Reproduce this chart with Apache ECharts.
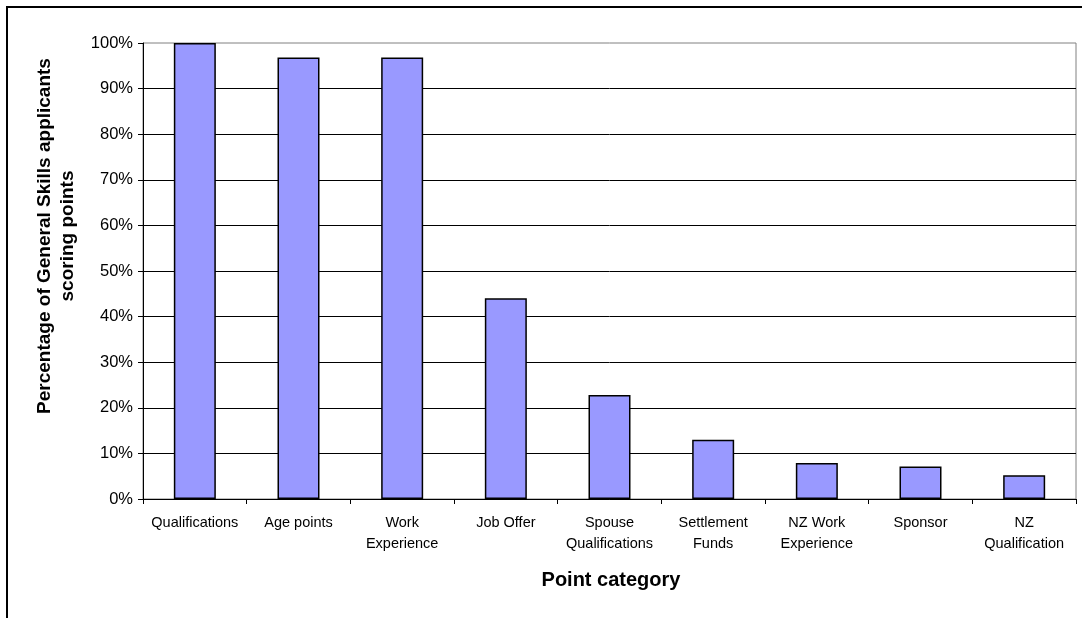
<!DOCTYPE html>
<html>
<head>
<meta charset="utf-8">
<script src="https://cdn.jsdelivr.net/npm/echarts@6/dist/echarts.min.js"></script>
<style>
  html, body { margin: 0; padding: 0; background: #fff; }
  #chart { width: 1082px; height: 618px; }
</style>
</head>
<body>
<div id="chart"></div>
<script>
// Point categories (multi-line labels) and share of applicants scoring in each
const categories = [
  'Qualifications',
  'Age points',
  'Work\nExperience',
  'Job Offer',
  'Spouse\nQualifications',
  'Settlement\nFunds',
  'NZ Work\nExperience',
  'Sponsor',
  'NZ\nQualification'
];
const percentScoring = [100, 96.8, 96.8, 44.0, 22.8, 13.0, 7.9, 7.1, 5.2];

const yTitle = 'Percentage of General Skills applicants\nscoring points';
const xTitle = 'Point category';

const FONT = '"Liberation Sans", Arial, sans-serif';

const chart = echarts.init(document.getElementById('chart'), null, { renderer: 'canvas' });

chart.setOption({
  animation: false,
  backgroundColor: '#ffffff',
  grid: {
    left: 143,
    right: 6,
    top: 43,
    bottom: 119,
    show: true,
    borderColor: '#808080',
    borderWidth: 1,
    backgroundColor: 'transparent'
  },
  xAxis: {
    type: 'category',
    data: categories,
    boundaryGap: true,
    axisLine: { lineStyle: { color: '#000', width: 1 } },
    axisTick: { show: true, length: 5, alignWithLabel: false, lineStyle: { color: '#000' } },
    axisLabel: {
      color: '#000',
      fontFamily: FONT,
      fontSize: 14.5,
      lineHeight: 21,
      margin: 13,
      interval: 0,
      align: 'center'
    },
    splitLine: { show: false }
  },
  yAxis: {
    type: 'value',
    min: 0,
    max: 100,
    interval: 10,
    axisLine: { show: true, lineStyle: { color: '#000', width: 1 } },
    axisTick: { show: true, length: 5, inside: false, lineStyle: { color: '#000' } },
    axisLabel: {
      color: '#000',
      fontFamily: FONT,
      fontSize: 16.5,
      margin: 10,
      formatter: '{value}%'
    },
    splitLine: {
      show: true,
      showMaxLine: false,
      lineStyle: { color: '#000', width: 1 }
    }
  },
  series: [{
    type: 'bar',
    data: percentScoring,
    barWidth: 42,
    itemStyle: {
      color: '#9999ff',
      borderColor: '#000',
      borderWidth: 1.5
    }
  }],
  graphic: [
    {
      // outer chart frame
      type: 'rect',
      shape: { x: 7, y: 7, width: 1200, height: 800 },
      style: { fill: 'transparent', stroke: '#000', lineWidth: 2 },
      z: 100
    },
    {
      type: 'text',
      x: 56,
      y: 236,
      rotation: Math.PI / 2,
      style: {
        text: yTitle,
        fontFamily: FONT,
        fontSize: 19,
        fontWeight: 'bold',
        lineHeight: 23,
        fill: '#000',
        align: 'center',
        verticalAlign: 'middle'
      }
    },
    {
      type: 'text',
      x: 611,
      y: 580,
      style: {
        text: xTitle,
        fontFamily: FONT,
        fontSize: 20,
        fontWeight: 'bold',
        fill: '#000',
        align: 'center',
        verticalAlign: 'middle'
      }
    }
  ]
});
</script>
</body>
</html>
